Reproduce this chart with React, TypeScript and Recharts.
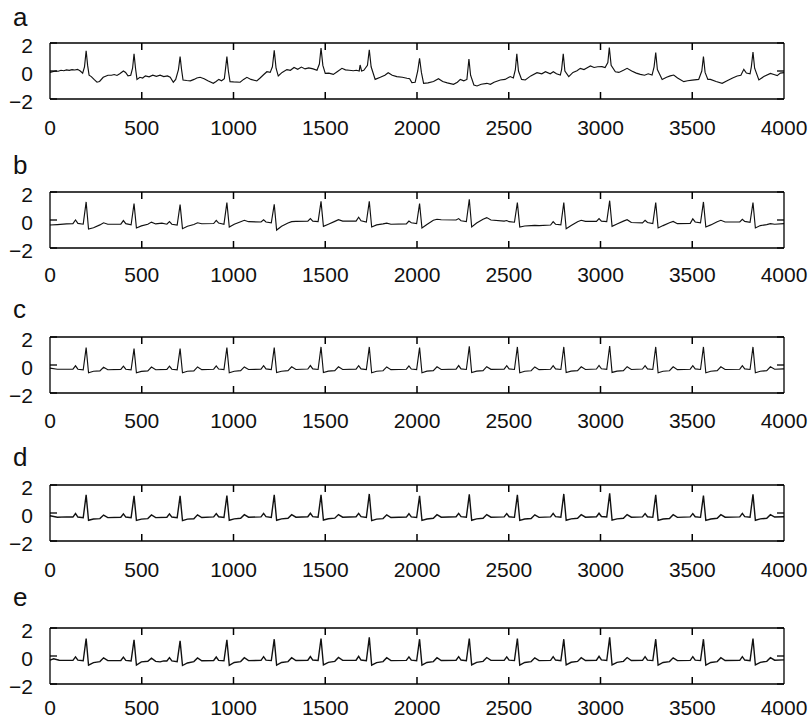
import { ComposedChart, Line, Scatter, XAxis, YAxis } from "recharts"

// sample index ticks and amplitude ticks
const xTicks = [0, 500, 1000, 1500, 2000, 2500, 3000, 3500, 4000]
const yTicks = [-2, 0, 2]
const panelLetters = ["a", "b", "c", "d", "e"]

// (sample, amplitude)
const signalA: [number, number][] = [
  [0, -0.1], [15, -0.05], [30, 0.0], [45, -0.02], [60, 0.05], [75, 0.02], [90, 0.08], [105, 0.05], [120, 0.1], [135, 0.07],
  [150, 0.12], [165, 0.0], [178, -0.15], [188, 0.3], [197, 1.45], [205, 0.4], [213, -0.3], [225, -0.4], [240, -0.6], [256, -0.8],
  [270, -0.75], [290, -0.45], [316, -0.3], [335, -0.3], [350, -0.25], [365, -0.32], [380, -0.2], [400, 0.0], [412, -0.1], [425, -0.35],
  [440, -0.3], [450, 0.2], [458, 1.22], [466, 0.2], [474, -0.6], [490, -0.45], [505, -0.5], [520, -0.35], [540, -0.42], [560, -0.3],
  [580, -0.38], [600, -0.3], [620, -0.4], [640, -0.35], [655, -0.45], [672, -0.8], [685, -0.6], [700, 0.1], [709, 1.03], [717, 0.1],
  [725, -0.65], [745, -0.68], [765, -0.7], [785, -0.6], [800, -0.5], [818, -0.45], [840, -0.55], [860, -0.7], [890, -0.88], [905, -0.75],
  [920, -0.6], [935, -0.7], [950, -0.55], [956, 0.1], [964, 1.03], [972, 0.0], [981, -0.76], [1000, -0.78], [1036, -0.8], [1055, -0.6],
  [1073, -0.45], [1095, -0.6], [1127, -0.71], [1145, -0.5], [1165, -0.25], [1182, -0.05], [1200, -0.1], [1212, 0.3], [1222, 1.47], [1232, 0.2],
  [1244, -0.36], [1265, -0.1], [1291, 0.1], [1310, 0.05], [1330, 0.25], [1350, 0.12], [1370, 0.28], [1390, 0.15], [1410, 0.22], [1434, 0.15],
  [1455, 0.05], [1468, 0.5], [1477, 1.64], [1487, 0.4], [1500, -0.17], [1520, -0.15], [1544, -0.24], [1565, -0.05], [1591, 0.19], [1610, 0.08],
  [1630, 0.05], [1653, 0.02], [1670, 0.05], [1685, 0.0], [1690, 0.43], [1698, 0.0], [1710, 0.05], [1730, 0.4], [1740, 1.52], [1750, 0.3],
  [1772, -0.6], [1800, -0.45], [1825, -0.3], [1843, -0.12], [1865, -0.3], [1890, -0.4], [1920, -0.45], [1945, -0.52], [1960, -0.55], [1972, -0.83],
  [1990, -0.8], [2004, 0.0], [2014, 0.91], [2024, -0.1], [2036, -0.88], [2060, -0.85], [2090, -0.75], [2117, -0.55], [2140, -0.75], [2165, -0.85],
  [2199, -0.95], [2220, -0.8], [2236, -0.6], [2255, -0.7], [2272, -0.6], [2283, 0.86], [2292, -0.3], [2310, -1.0], [2327, -1.07], [2350, -0.95],
  [2381, -0.88], [2400, -0.95], [2420, -0.8], [2454, -0.64], [2480, -0.6], [2508, -0.4], [2525, -0.5], [2536, 0.1], [2544, 1.22], [2553, 0.0],
  [2570, -0.6], [2590, -0.64], [2620, -0.35], [2654, -0.12], [2680, -0.2], [2700, -0.05], [2726, -0.2], [2743, -0.05], [2760, -0.2], [2781, -0.29],
  [2788, 0.1], [2797, 1.22], [2806, 0.0], [2827, -0.4], [2850, -0.1], [2872, 0.02], [2890, 0.19], [2910, 0.1], [2930, 0.25], [2945, 0.36],
  [2965, 0.25], [2985, 0.3], [3008, 0.31], [3025, 0.25], [3040, 0.6], [3048, 1.68], [3058, 0.4], [3081, -0.05], [3100, -0.1], [3125, 0.05],
  [3145, 0.19], [3170, 0.0], [3195, -0.15], [3217, -0.24], [3240, -0.3], [3260, -0.2], [3281, -0.29], [3292, 0.3], [3301, 1.32], [3310, 0.1],
  [3336, -0.6], [3360, -0.45], [3380, -0.35], [3399, -0.29], [3420, -0.5], [3454, -0.76], [3475, -0.7], [3500, -0.65], [3535, -0.6], [3552, 0.0],
  [3561, 1.03], [3570, -0.1], [3585, -0.6], [3599, -0.6], [3630, -0.75], [3663, -0.88], [3690, -0.7], [3720, -0.5], [3745, -0.36], [3765, -0.3],
  [3781, 0.12], [3795, -0.15], [3815, -0.2], [3822, 0.3], [3831, 1.35], [3840, 0.2], [3863, -0.64], [3890, -0.4], [3926, -0.17], [3945, -0.25],
  [3963, -0.33], [3980, -0.15], [4000, -0.12],
]

const signalB: [number, number][] = [
  [0, -0.36], [40, -0.33], [90, -0.28],
  [125, -0.26], [139, 0.0], [152, -0.24], [181, -0.3], [197, 1.29], [210, -0.65], [237, -0.55], [272, -0.35], [292, -0.2], [315, -0.3],
  [386, -0.3], [400, -0.04], [413, -0.26], [442, -0.34], [458, 1.17], [471, -0.57], [498, -0.42], [533, -0.3], [553, -0.15], [576, -0.28], [610, -0.22],
  [637, -0.3], [651, -0.12], [664, -0.3], [693, -0.36], [709, 1.1], [722, -0.62], [749, -0.45], [784, -0.32], [804, -0.2], [827, -0.27],
  [892, -0.25], [906, -0.02], [919, -0.22], [948, -0.3], [964, 1.24], [977, -0.5], [1004, -0.3], [1039, -0.12], [1059, -0.02], [1082, -0.12],
  [1150, -0.14], [1164, 0.02], [1177, -0.14], [1206, -0.2], [1222, 1.12], [1235, -0.72], [1262, -0.45], [1297, -0.22], [1317, -0.12], [1340, -0.1],
  [1405, -0.08], [1419, 0.1], [1432, -0.08], [1461, -0.12], [1477, 1.33], [1490, -0.45], [1517, -0.3], [1552, -0.1], [1572, 0.02], [1595, -0.08],
  [1668, -0.08], [1682, 0.2], [1695, -0.06], [1724, -0.15], [1740, 1.33], [1753, -0.5], [1780, -0.35], [1815, -0.28], [1835, -0.22], [1858, -0.3],
  [1942, -0.28], [1956, -0.08], [1969, -0.2], [1998, -0.26], [2014, 1.17], [2027, -0.57], [2054, -0.32], [2089, -0.02], [2109, 0.05], [2132, 0.02],
  [2213, 0.0], [2227, 0.1], [2240, -0.05], [2269, -0.12], [2285, 1.48], [2298, -0.5], [2325, -0.22], [2360, 0.05], [2380, 0.17], [2403, 0.0],
  [2475, -0.08], [2489, -0.04], [2502, -0.12], [2531, -0.16], [2547, 1.24], [2560, -0.5], [2587, -0.43], [2622, -0.4], [2642, -0.38], [2665, -0.4],
  [2728, -0.36], [2742, -0.12], [2755, -0.3], [2784, -0.35], [2800, 1.24], [2813, -0.62], [2840, -0.4], [2875, -0.12], [2895, -0.02], [2918, -0.1],
  [2978, -0.1], [2992, 0.1], [3005, -0.08], [3034, -0.12], [3050, 1.38], [3063, -0.45], [3090, -0.28], [3125, -0.08], [3145, 0.02], [3168, -0.18],
  [3229, -0.2], [3243, -0.02], [3256, -0.18], [3285, -0.25], [3301, 1.24], [3314, -0.57], [3341, -0.4], [3376, -0.2], [3396, -0.1], [3419, -0.26],
  [3489, -0.24], [3503, 0.08], [3516, -0.14], [3545, -0.2], [3561, 1.29], [3574, -0.5], [3601, -0.35], [3636, -0.12], [3656, -0.02], [3679, -0.14],
  [3759, -0.14], [3773, 0.05], [3786, -0.1], [3815, -0.16], [3831, 1.24], [3844, -0.57], [3871, -0.4], [3906, -0.33], [3926, -0.26], [3949, -0.3],
  [4000, -0.26],
]

const signalC: [number, number][] = [
  [0, -0.22], [40, -0.3], [90, -0.3],
  [125, -0.3], [139, -0.06], [152, -0.3], [181, -0.34], [197, 1.24], [210, -0.55], [237, -0.45], [272, -0.42], [292, -0.16], [315, -0.34],
  [386, -0.31], [400, -0.08], [413, -0.3], [442, -0.34], [458, 1.17], [471, -0.55], [498, -0.46], [533, -0.42], [553, -0.15], [576, -0.34],
  [637, -0.31], [651, -0.08], [664, -0.3], [693, -0.34], [709, 1.17], [722, -0.56], [749, -0.45], [784, -0.42], [804, -0.14], [827, -0.33],
  [892, -0.3], [906, -0.06], [919, -0.29], [948, -0.33], [964, 1.24], [977, -0.55], [1004, -0.45], [1039, -0.4], [1059, -0.14], [1082, -0.32],
  [1150, -0.3], [1164, -0.05], [1177, -0.28], [1206, -0.33], [1222, 1.24], [1235, -0.54], [1262, -0.45], [1297, -0.4], [1317, -0.13], [1340, -0.32],
  [1405, -0.29], [1419, -0.04], [1432, -0.28], [1461, -0.32], [1477, 1.29], [1490, -0.54], [1517, -0.44], [1552, -0.4], [1572, -0.13], [1595, -0.32],
  [1668, -0.29], [1682, -0.05], [1695, -0.28], [1724, -0.33], [1740, 1.29], [1753, -0.55], [1780, -0.45], [1815, -0.41], [1835, -0.14], [1858, -0.33],
  [1942, -0.3], [1956, -0.06], [1969, -0.29], [1998, -0.33], [2014, 1.24], [2027, -0.55], [2054, -0.44], [2089, -0.4], [2109, -0.13], [2132, -0.32],
  [2213, -0.29], [2227, -0.04], [2240, -0.28], [2269, -0.32], [2285, 1.33], [2298, -0.54], [2325, -0.44], [2360, -0.4], [2380, -0.12], [2403, -0.31],
  [2475, -0.29], [2489, -0.05], [2502, -0.28], [2531, -0.32], [2547, 1.29], [2560, -0.55], [2587, -0.45], [2622, -0.41], [2642, -0.14], [2665, -0.33],
  [2728, -0.3], [2742, -0.05], [2755, -0.28], [2784, -0.32], [2800, 1.29], [2813, -0.54], [2840, -0.44], [2875, -0.4], [2895, -0.13], [2918, -0.32],
  [2978, -0.29], [2992, -0.03], [3005, -0.27], [3034, -0.31], [3050, 1.36], [3063, -0.53], [3090, -0.44], [3125, -0.4], [3145, -0.12], [3168, -0.32],
  [3229, -0.29], [3243, -0.05], [3256, -0.28], [3285, -0.32], [3301, 1.29], [3314, -0.55], [3341, -0.45], [3376, -0.41], [3396, -0.13], [3419, -0.33],
  [3489, -0.3], [3503, -0.05], [3516, -0.28], [3545, -0.32], [3561, 1.29], [3574, -0.55], [3601, -0.45], [3636, -0.4], [3656, -0.13], [3679, -0.32],
  [3759, -0.3], [3773, -0.05], [3786, -0.28], [3815, -0.32], [3831, 1.29], [3844, -0.55], [3871, -0.45], [3906, -0.4], [3926, -0.13], [3949, -0.3],
  [4000, -0.28],
]

const signalD: [number, number][] = [
  [0, -0.2], [40, -0.3], [90, -0.28],
  [125, -0.29], [139, -0.04], [152, -0.29], [181, -0.33], [197, 1.29], [210, -0.52], [237, -0.43], [272, -0.4], [292, -0.15], [315, -0.33],
  [386, -0.3], [400, -0.06], [413, -0.29], [442, -0.33], [458, 1.22], [471, -0.53], [498, -0.44], [533, -0.4], [553, -0.14], [576, -0.33],
  [637, -0.3], [651, -0.06], [664, -0.29], [693, -0.33], [709, 1.22], [722, -0.54], [749, -0.44], [784, -0.41], [804, -0.13], [827, -0.32],
  [892, -0.28], [906, -0.04], [919, -0.27], [948, -0.32], [964, 1.24], [977, -0.52], [1004, -0.42], [1039, -0.38], [1059, -0.12], [1082, -0.3],
  [1150, -0.28], [1164, -0.03], [1177, -0.26], [1206, -0.31], [1222, 1.29], [1235, -0.52], [1262, -0.42], [1297, -0.38], [1317, -0.12], [1340, -0.3],
  [1405, -0.27], [1419, -0.02], [1432, -0.26], [1461, -0.3], [1477, 1.29], [1490, -0.5], [1517, -0.41], [1552, -0.37], [1572, -0.11], [1595, -0.3],
  [1668, -0.27], [1682, -0.03], [1695, -0.26], [1724, -0.31], [1740, 1.36], [1753, -0.54], [1780, -0.44], [1815, -0.4], [1835, -0.13], [1858, -0.32],
  [1942, -0.29], [1956, -0.05], [1969, -0.28], [1998, -0.32], [2014, 1.22], [2027, -0.53], [2054, -0.43], [2089, -0.38], [2109, -0.12], [2132, -0.3],
  [2213, -0.27], [2227, -0.03], [2240, -0.26], [2269, -0.3], [2285, 1.33], [2298, -0.52], [2325, -0.42], [2360, -0.38], [2380, -0.11], [2403, -0.3],
  [2475, -0.28], [2489, -0.04], [2502, -0.27], [2531, -0.31], [2547, 1.29], [2560, -0.53], [2587, -0.43], [2622, -0.39], [2642, -0.13], [2665, -0.31],
  [2728, -0.28], [2742, -0.03], [2755, -0.26], [2784, -0.3], [2800, 1.36], [2813, -0.52], [2840, -0.42], [2875, -0.38], [2895, -0.12], [2918, -0.3],
  [2978, -0.27], [2992, -0.02], [3005, -0.25], [3034, -0.29], [3050, 1.4], [3063, -0.51], [3090, -0.42], [3125, -0.38], [3145, -0.11], [3168, -0.3],
  [3229, -0.28], [3243, -0.04], [3256, -0.27], [3285, -0.31], [3301, 1.29], [3314, -0.53], [3341, -0.43], [3376, -0.39], [3396, -0.12], [3419, -0.31],
  [3489, -0.28], [3503, -0.04], [3516, -0.27], [3545, -0.31], [3561, 1.24], [3574, -0.53], [3601, -0.43], [3636, -0.38], [3656, -0.12], [3679, -0.3],
  [3759, -0.28], [3773, -0.03], [3786, -0.26], [3815, -0.3], [3831, 1.33], [3844, -0.52], [3871, -0.42], [3906, -0.38], [3926, -0.12], [3949, -0.29],
  [4000, -0.27],
]

const signalE: [number, number][] = [
  [0, -0.3], [20, -0.2], [50, -0.3], [90, -0.31],
  [125, -0.31], [139, -0.06], [152, -0.3], [181, -0.34], [197, 1.25], [210, -0.66], [237, -0.47], [272, -0.4], [292, -0.13], [315, -0.33],
  [386, -0.32], [400, -0.08], [413, -0.31], [442, -0.35], [458, 1.16], [471, -0.65], [498, -0.42], [533, -0.38], [553, -0.15], [576, -0.38], [600, -0.42], [620, -0.35],
  [637, -0.36], [651, -0.12], [664, -0.35], [693, -0.4], [709, 1.08], [722, -0.68], [749, -0.5], [784, -0.4], [804, -0.14], [827, -0.34],
  [892, -0.32], [906, -0.07], [919, -0.31], [948, -0.34], [964, 1.16], [977, -0.66], [1004, -0.46], [1039, -0.4], [1059, -0.12], [1082, -0.33],
  [1150, -0.31], [1164, -0.05], [1177, -0.3], [1206, -0.33], [1222, 1.2], [1235, -0.65], [1262, -0.46], [1297, -0.4], [1317, -0.12], [1340, -0.32],
  [1405, -0.3], [1419, -0.04], [1432, -0.29], [1461, -0.32], [1477, 1.25], [1490, -0.64], [1517, -0.45], [1552, -0.38], [1572, -0.1], [1595, -0.31],
  [1668, -0.3], [1682, -0.02], [1695, -0.29], [1724, -0.33], [1740, 1.33], [1753, -0.66], [1780, -0.47], [1815, -0.4], [1835, -0.12], [1858, -0.33],
  [1942, -0.31], [1956, -0.06], [1969, -0.3], [1998, -0.34], [2014, 1.2], [2027, -0.65], [2054, -0.46], [2089, -0.4], [2109, -0.12], [2132, -0.32],
  [2213, -0.3], [2227, -0.05], [2240, -0.29], [2269, -0.33], [2285, 1.25], [2298, -0.64], [2325, -0.45], [2360, -0.38], [2380, -0.11], [2403, -0.31],
  [2475, -0.31], [2489, -0.06], [2502, -0.3], [2531, -0.33], [2547, 1.25], [2560, -0.65], [2587, -0.46], [2622, -0.4], [2642, -0.13], [2665, -0.33],
  [2728, -0.31], [2742, -0.05], [2755, -0.29], [2784, -0.33], [2800, 1.2], [2813, -0.64], [2840, -0.45], [2875, -0.39], [2895, -0.12], [2918, -0.32],
  [2978, -0.3], [2992, -0.02], [3005, -0.28], [3034, -0.32], [3050, 1.33], [3063, -0.64], [3090, -0.45], [3125, -0.38], [3145, -0.11], [3168, -0.32],
  [3229, -0.31], [3243, -0.05], [3256, -0.3], [3285, -0.33], [3301, 1.2], [3314, -0.65], [3341, -0.46], [3376, -0.4], [3396, -0.13], [3419, -0.33],
  [3489, -0.31], [3503, -0.05], [3516, -0.3], [3545, -0.33], [3561, 1.2], [3574, -0.65], [3601, -0.46], [3636, -0.4], [3656, -0.12], [3679, -0.32],
  [3759, -0.31], [3773, -0.05], [3786, -0.29], [3815, -0.33], [3831, 1.25], [3844, -0.64], [3871, -0.45], [3906, -0.38], [3926, -0.12], [3949, -0.3],
  [4000, -0.28],
]

const signals = [signalA, signalB, signalC, signalD, signalE]

// layout (pixels)
const FONT = "'Liberation Sans', Arial, Helvetica, sans-serif"
const plotTops = [43, 192, 337, 485, 628]
const labelGaps = [21, 19, 20, 21, 16]
const letterBaselines = [26, 174, 318, 466, 606]
const PLOT_H = 56
const MARGIN_TOP = 10
const AXIS_H = 40
const TICK_LEN = 7

const fmtY = (v: number) => (v < 0 ? `\u2212${Math.abs(v)}` : `${v}`)
const blank = () => ""

// inward tick marks on the bottom (y=-2) and top (y=2) edges, placed by the chart scales
const tickMarks = xTicks.slice(1, -1).flatMap((t) => [
  { x: t, y: -2, dir: -1 },
  { x: t, y: 2, dir: 1 },
])

function TickMark(props: any) {
  const { cx, cy, payload } = props
  if (cx == null || cy == null) return <g />
  return <line x1={cx} x2={cx} y1={cy} y2={cy + payload.dir * TICK_LEN} stroke="#000" strokeWidth={1.5} />
}

function Panel({ points, top, gap, thick }: { points: [number, number][]; top: number; gap: number; thick: boolean }) {
  const data = points.map(([x, y]) => ({ x, y }))
  const border = { stroke: "#000", strokeWidth: 1.3 }
  const inward = { stroke: "#000", strokeWidth: 1.3 }
  const hiddenTick = { fill: "none", fontSize: 1 }
  return (
    <div style={{ position: "absolute", left: 0, top: top - MARGIN_TOP }}>
      <ComposedChart
        width={812}
        height={MARGIN_TOP + PLOT_H + AXIS_H}
        data={data}
        margin={{ top: MARGIN_TOP, right: 28, bottom: 0, left: 0 }}
      >
        {/* tick labels */}
        <XAxis
          xAxisId="lab"
          dataKey="x"
          type="number"
          domain={[0, 4000]}
          ticks={xTicks}
          interval={0}
          height={AXIS_H}
          axisLine={false}
          tickLine={false}
          tickSize={0}
          tickMargin={gap}
          tick={{ fill: "#111", fontSize: 21, fontFamily: FONT }}
        />
        <YAxis
          yAxisId="lab"
          dataKey="y"
          type="number"
          domain={[-2, 2]}
          ticks={yTicks}
          interval={0}
          width={50}
          axisLine={false}
          tickLine={false}
          tickSize={0}
          tickMargin={17}
          tickFormatter={fmtY}
          tick={{ fill: "#111", fontSize: 21, fontFamily: FONT, dy: 3 }}
        />
        {/* box */}
        <XAxis dataKey="x" type="number" domain={[0, 4000]} ticks={xTicks} interval={0} mirror height={10} tick={false} tickLine={false} axisLine={border} />
        <XAxis xAxisId="top" orientation="top" dataKey="x" type="number" domain={[0, 4000]} ticks={xTicks} interval={0} mirror height={10} tick={false} tickLine={false} axisLine={border} />
        <YAxis dataKey="y" type="number" domain={[-2, 2]} ticks={yTicks} interval={0} mirror width={10} tick={hiddenTick} tickFormatter={blank} tickSize={TICK_LEN} axisLine={border} tickLine={inward} />
        <YAxis yAxisId="right" orientation="right" dataKey="y" type="number" domain={[-2, 2]} ticks={yTicks} interval={0} mirror width={10} tick={hiddenTick} tickFormatter={blank} tickSize={TICK_LEN} axisLine={border} tickLine={inward} />
        <Scatter data={tickMarks} dataKey="y" shape={TickMark} isAnimationActive={false} />
        <Line
          type="linear"
          dataKey="y"
          stroke="#111"
          strokeWidth={thick ? 1.4 : 1.15}
          dot={false}
          isAnimationActive={false}
        />
      </ComposedChart>
    </div>
  )
}

export default function App() {
  return (
    <div style={{ position: "absolute", left: 0, top: 0, width: 812, height: 721, background: "#fff" }}>
      {signals.map((s, i) => (
        <Panel key={panelLetters[i]} points={s} top={plotTops[i]} gap={labelGaps[i]} thick={i >= 3} />
      ))}
      <svg width={812} height={721} style={{ position: "absolute", left: 0, top: 0, pointerEvents: "none" }}>
        {panelLetters.map((l, i) => (
          <text key={l} x={13} y={letterBaselines[i]} fontSize={26} fontFamily={FONT} fill="#111">
            {l}
          </text>
        ))}
      </svg>
    </div>
  )
}
